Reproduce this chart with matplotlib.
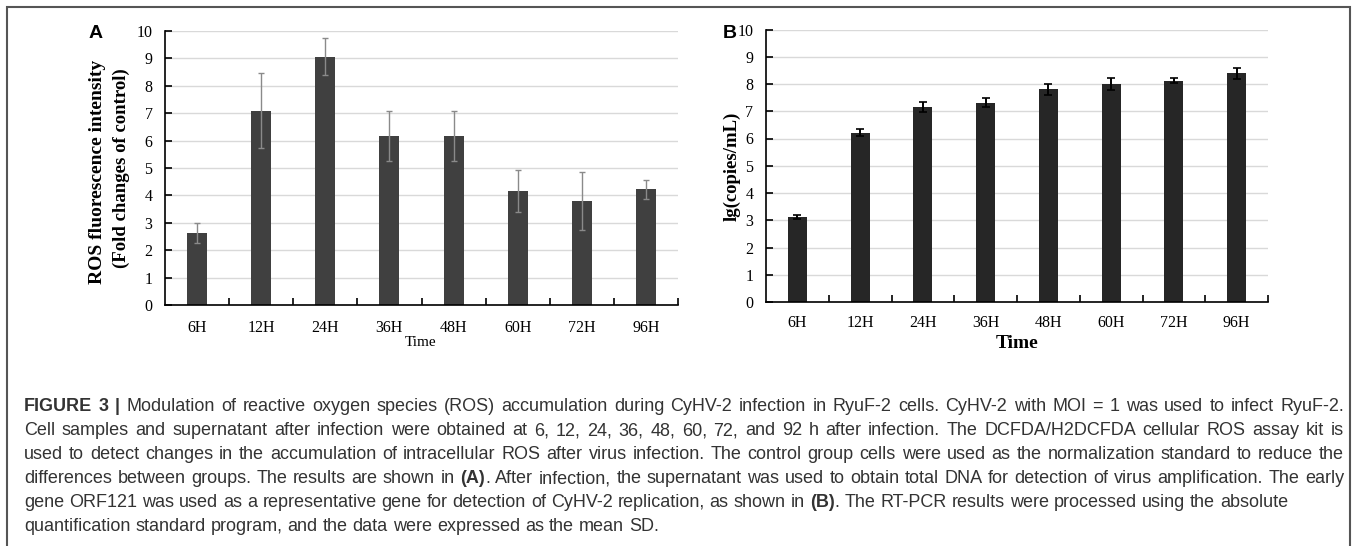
import matplotlib
matplotlib.use('Agg')
import matplotlib.pyplot as plt
from matplotlib.patches import Rectangle
import numpy as np

# data
times = ['6H', '12H', '24H', '36H', '48H', '60H', '72H', '96H']
ros_mean = [2.63, 7.09, 9.06, 6.17, 6.17, 4.16, 3.81, 4.22]
ros_sd = [0.36, 1.37, 0.67, 0.92, 0.92, 0.77, 1.06, 0.34]
copies_mean = [3.11, 6.22, 7.16, 7.32, 7.80, 8.00, 8.12, 8.39]
copies_sd = [0.07, 0.13, 0.17, 0.17, 0.20, 0.23, 0.10, 0.20]

caption = [
    [('FIGURE 3 |', True), ('Modulation of reactive oxygen species (ROS) accumulation during CyHV-2 infection in RyuF-2 cells. CyHV-2 with MOI  =  1 was used to infect RyuF-2.', False)],
    [('Cell samples and supernatant after infection were obtained at 6, 12, 24, 36, 48, 60, 72, and 92 h after infection. The DCFDA/H2DCFDA cellular ROS assay kit is', False)],
    [('used to detect changes in the accumulation of intracellular ROS after virus infection. The control group cells were used as the normalization standard to reduce the', False)],
    [('differences between groups. The results are shown in', False), ('(A)', True), ('. After infection, the supernatant was used to obtain total DNA for detection of virus amplification. The early', False)],
    [('gene ORF121 was used as a representative gene for detection of CyHV-2 replication, as shown in', False), ('(B)', True), ('. The RT-PCR results were processed using the absolute', False)],
    [('quantification standard program, and the data were expressed as the mean SD.', False)],
]
justified = [True, True, True, True, False, False]

W, H = 1357, 546
fig = plt.figure(figsize=(W / 100, H / 100), dpi=100)
serif = 'Liberation Serif'
sans = 'Liberation Sans'
cap_size = 13


def fx(x):
    return x / W


def fy(y):
    return 1 - y / H


def setup_axis(ax, pad_x):
    n = len(times)
    x = np.arange(n)
    ax.set_xlim(-0.5, n - 0.5)
    ax.set_ylim(0, 10)
    ax.set_yticks(range(0, 11))
    ax.set_xticks(x)
    ax.set_xticklabels(times)
    ax.set_xticks(np.arange(n) + 0.5, minor=True)
    ax.tick_params(axis='x', which='major', length=0, pad=pad_x, labelsize=11.5)
    ax.tick_params(axis='x', which='minor', direction='in', length=5, width=1.2)
    ax.tick_params(axis='y', direction='in', length=5, width=1.2, pad=9, labelsize=11.5)
    for lab in ax.get_xticklabels() + ax.get_yticklabels():
        lab.set_fontfamily(serif)
    ax.grid(axis='y', color='#d9d9d9', lw=1)
    ax.set_axisbelow(True)
    ax.spines['top'].set_visible(False)
    ax.spines['right'].set_visible(False)
    ax.spines['left'].set_linewidth(1.2)
    ax.spines['bottom'].set_linewidth(1.2)
    return x


# panel A
axA = fig.add_axes([fx(165), fy(305), fx(678 - 165), (305 - 31) / H])
x = setup_axis(axA, 10.5)
axA.bar(x, ros_mean, width=0.31, color='#404040', zorder=2)
axA.errorbar(x, ros_mean, yerr=ros_sd, fmt='none', ecolor='#8a8a8a', elinewidth=1, capsize=2.5, capthick=1, zorder=3)

# panel B
axB = fig.add_axes([fx(766), fy(302), fx(1268 - 766), (302 - 29.5) / H])
x = setup_axis(axB, 9.5)
axB.bar(x, copies_mean, width=0.30, color='#262626', zorder=2)
axB.errorbar(x, copies_mean, yerr=copies_sd, fmt='none', ecolor='black', elinewidth=1.4, capsize=3, capthick=1.2, zorder=3)

# axis titles and panel letters
fig.text(fx(97), fy(172), 'ROS fluorescence intensity', rotation=90, ha='center', va='center',
         fontsize=14, fontweight='bold', family=serif)
fig.text(fx(121), fy(168), '(Fold changes of control)', rotation=90, ha='center', va='center',
         fontsize=13.5, fontweight='bold', family=serif)
fig.text(fx(732), fy(166), 'lg(copies/mL)', rotation=90, ha='center', va='center',
         fontsize=13.5, fontweight='bold', family=serif)
fig.text(fx(421), fy(343), 'Time', ha='center', va='center', fontsize=11, family=serif)
fig.text(fx(1017), fy(343), 'Time', ha='center', va='center', fontsize=14, fontweight='bold', family=serif)
fig.text(fx(96), fy(33), 'A', ha='center', va='center', fontsize=14, fontweight='bold', family=sans)
fig.text(fx(730), fy(33), 'B', ha='center', va='center', fontsize=14, fontweight='bold', family=sans)

# frame around the figure
fig.patches.append(Rectangle((fx(7), fy(560)), fx(1350 - 7), (560 - 7) / H, transform=fig.transFigure,
                             fill=False, edgecolor='#555555', lw=1.5))

# caption, laid out word by word so the long lines are justified
fig.canvas.draw()
r = fig.canvas.get_renderer()


def text_width(s, bold=False):
    t = fig.text(0, 0, s, fontsize=cap_size, family=sans, fontweight='bold' if bold else 'normal')
    w = t.get_window_extent(renderer=r).width
    t.remove()
    return w


space = text_width('a a') - text_width('aa')
left, right = 24, 1344
base0, dy = 411, 24
for i, line in enumerate(caption):
    words = []
    for txt, bold in line:
        for j, p in enumerate(txt.split(' ')):
            if p == '':
                continue
            # punctuation right after a bold run sticks to it
            glue = j == 0 and len(words) > 0 and p[0] in '.,'
            words.append((p, bold, glue))
    items = []
    for p, bold, glue in words:
        t = fig.text(0, fy(base0 + i * dy), p, ha='left', va='baseline', fontsize=cap_size,
                     family=sans, fontweight='bold' if bold else 'normal', color='#333333')
        items.append((t, text_width(p, bold), glue))
    ngaps = sum(1 for k, it in enumerate(items) if k > 0 and not it[2])
    total = sum(it[1] for it in items)
    gap = (right - left - total) / ngaps if justified[i] and ngaps else space
    xpos = left
    for k, (t, w, glue) in enumerate(items):
        if k > 0 and not glue:
            xpos += gap
        t.set_x(fx(xpos))
        xpos += w

fig.savefig('out.png', dpi=100)
